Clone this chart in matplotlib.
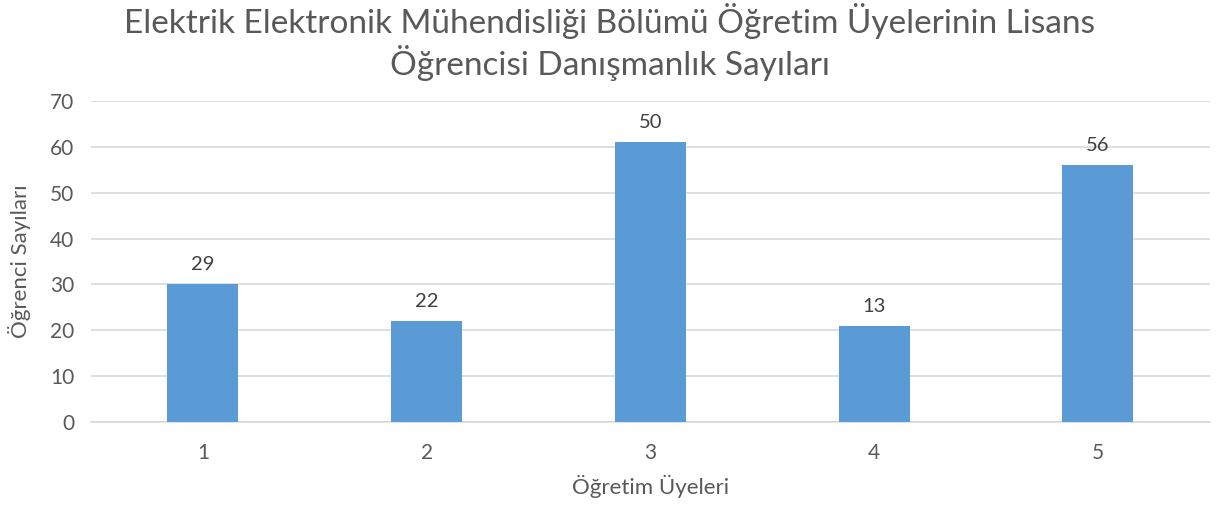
import numpy as np
import matplotlib.pyplot as plt

plt.rcParams['font.family'] = ['Lato', 'DejaVu Sans']

uyeler = ['1', '2', '3', '4', '5']
bar_heights = [30, 22, 61, 21, 56]
bar_labels = ['29', '22', '50', '13', '56']

text_color = '#595959'
grid_color = '#d9d9d9'
bar_color = '#5b9bd5'

fig = plt.figure(figsize=(12.2, 5.08), dpi=100)
ax = fig.add_axes([0.0746, 0.1693, 0.917, 0.6319])

x = np.arange(len(uyeler))
bars = ax.bar(x, bar_heights, width=0.317, color=bar_color, zorder=3)
for b, lab in zip(bars, bar_labels):
    ax.annotate(lab, (b.get_x() + b.get_width() / 2, b.get_height()),
                xytext=(0, 8), textcoords='offset points', ha='center', va='bottom',
                fontsize=14.5, color='#404040')

ax.set_xlim(-0.5, len(uyeler) - 0.5)
ax.set_ylim(0, 70)
ax.set_yticks(range(0, 71, 10))
ax.set_xticks(x)
ax.set_xticklabels(uyeler)
ax.yaxis.grid(True, color=grid_color, linewidth=1.2, zorder=0)
for s in ['top', 'right', 'left']:
    ax.spines[s].set_visible(False)
ax.spines['bottom'].set_color(grid_color)
ax.spines['bottom'].set_linewidth(1.2)
ax.tick_params(axis='both', length=0, labelsize=15, colors=text_color)
ax.tick_params(axis='x', pad=15)
ax.tick_params(axis='y', pad=12)

ax.set_xlabel('Öğretim Üyeleri', fontsize=16, color=text_color, labelpad=9)
ax.set_ylabel('Öğrenci Sayıları', fontsize=16, color=text_color, labelpad=14)
fig.suptitle('Elektrik Elektronik Mühendisliği Bölümü Öğretim Üyelerinin Lisans\nÖğrencisi Danışmanlık Sayıları',
             fontsize=24, color=text_color, y=0.995, linespacing=1.2)

fig.savefig('out.png', dpi=100)
